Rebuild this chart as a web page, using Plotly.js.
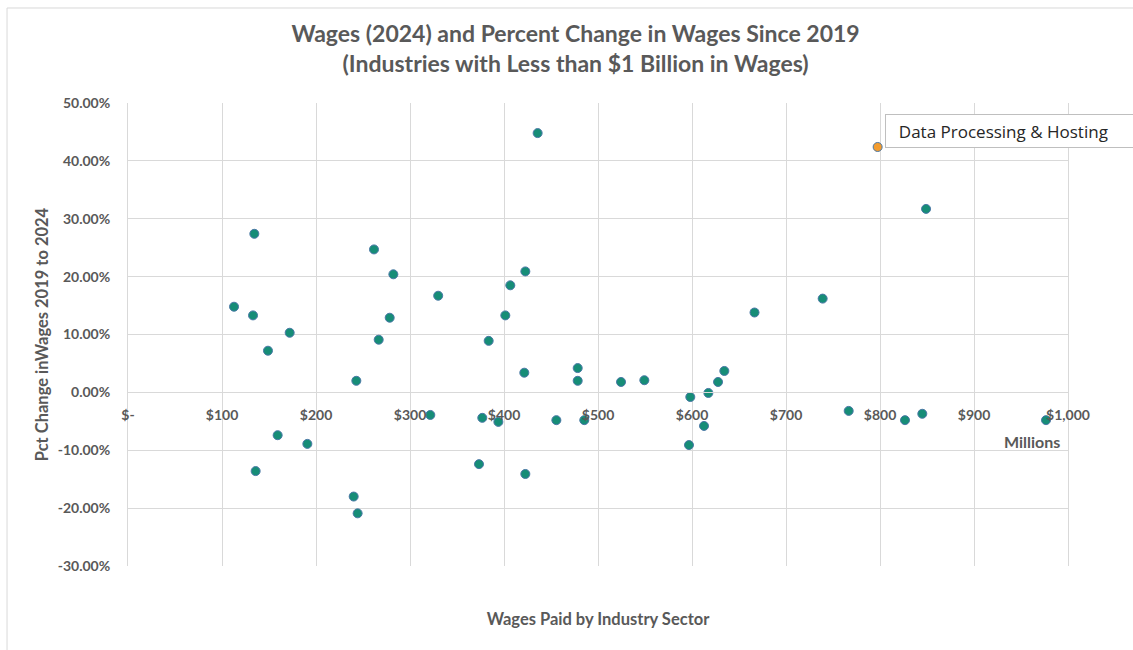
<!DOCTYPE html>
<html>
<head>
<meta charset="utf-8">
<script src="https://cdn.plot.ly/plotly-3.0.1.min.js"></script>
<style>html,body{margin:0;padding:0;background:#fff;}#chart{width:1133px;height:650px;}</style>
</head>
<body>
<div id="chart"></div>
<script>
// Wages paid in 2024 (millions of dollars) and percent change 2019-2024
const wagesMillions = [134.4, 261.7, 282.3, 330, 112.8, 133, 278.4, 172, 266.7, 148.9, 242.9,
  435.8, 422.7, 406.7, 401.4, 383.7, 421.6, 478.4, 478.4, 524.5, 549.3, 598.2, 617.4, 627.7, 634.4,
  666.5, 739, 849, 321.6, 376.9, 394, 455.7, 485.4, 159.2, 190.8, 135.8, 373.4, 422.7, 240.1, 244.3,
  612.8, 596.8, 766.7, 826.6, 845, 976.6];
const pctChange = [0.274, 0.247, 0.204, 0.167, 0.148, 0.133, 0.129, 0.103, 0.091, 0.072, 0.020,
  0.448, 0.209, 0.185, 0.133, 0.089, 0.034, 0.042, 0.020, 0.018, 0.021, -0.008, -0.001, 0.018, 0.037,
  0.138, 0.162, 0.317, -0.039, -0.044, -0.051, -0.048, -0.048, -0.074, -0.089, -0.136, -0.124, -0.141, -0.180, -0.209,
  -0.058, -0.091, -0.032, -0.048, -0.037, -0.048];

const highlightName = "Data Processing & Hosting";
const highlightWages = [797.5];
const highlightPct = [0.424];

const xTickVals = [0, 100, 200, 300, 400, 500, 600, 700, 800, 900, 1000];
const xTickText = ["$-", "$100", "$200", "$300", "$400", "$500", "$600", "$700", "$800", "$900", "$1,000"];
const yTickVals = [-0.3, -0.2, -0.1, 0, 0.1, 0.2, 0.3, 0.4, 0.5];
const yTickText = ["-30.00%", "-20.00%", "-10.00%", "0.00%", "10.00%", "20.00%", "30.00%", "40.00%", "50.00%"];

const gray = "#595959";
const grid = "#d9d9d9";
const fam = "Lato, 'Liberation Sans', sans-serif";

const traces = [
  {
    type: "scatter", mode: "markers", name: "Industries",
    x: wagesMillions, y: pctChange,
    marker: {size: 9, color: "#168d77", line: {color: "#4a78a6", width: 1}},
    hoverinfo: "x+y"
  },
  {
    type: "scatter", mode: "markers", name: highlightName,
    x: highlightWages, y: highlightPct,
    marker: {size: 9, color: "#f39c2f", line: {color: "#4a78a6", width: 1}},
    hoverinfo: "x+y+name"
  }
];

const layout = {
  width: 1133, height: 650, autosize: false,
  paper_bgcolor: "#ffffff", plot_bgcolor: "#ffffff",
  showlegend: false,
  margin: {l: 128, r: 65, t: 103, b: 84},
  title: {
    text: "Wages (2024) and Percent Change in Wages Since 2019<br>(Industries with Less than $1 Billion in Wages)",
    font: {family: fam, size: 23, color: gray, weight: "bold"},
    xref: "container", x: 0.508, xanchor: "center",
    yref: "container", y: 0.935, yanchor: "middle"
  },
  xaxis: {
    range: [0, 1000], anchor: "free", position: 0.375,
    tickmode: "array", tickvals: xTickVals, ticktext: xTickText,
    showgrid: true, gridcolor: grid, gridwidth: 1,
    zeroline: false, showline: true, linecolor: grid, linewidth: 1,
    ticks: "", ticklabelstandoff: 10,
    tickfont: {family: fam, size: 14, color: gray, weight: "bold"},
    title: {text: "Wages Paid by Industry Sector", standoff: 191,
            font: {family: fam, size: 16.5, color: gray, weight: "bold"}},
    fixedrange: true
  },
  yaxis: {
    range: [-0.3, 0.5],
    tickmode: "array", tickvals: yTickVals, ticktext: yTickText,
    showgrid: true, gridcolor: grid, gridwidth: 1,
    zeroline: false, showline: true, mirror: true, linecolor: grid, linewidth: 1,
    ticks: "", ticklabelstandoff: 14,
    tickfont: {family: fam, size: 14, color: gray, weight: "bold"},
    title: {text: "Pct Change inWages 2019 to 2024", standoff: 4,
            font: {family: fam, size: 16.5, color: gray, weight: "bold"}},
    fixedrange: true
  },
  annotations: [
    {
      xref: "paper", yref: "paper", x: 0.9936, y: 0.2685,
      xanchor: "right", yanchor: "middle", showarrow: false,
      text: "Millions",
      font: {family: fam, size: 16, color: gray, weight: "bold"}
    },
    {
      xref: "paper", yref: "paper", x: 0.8053, y: 0.9395,
      xanchor: "left", yanchor: "middle", showarrow: false,
      text: "\u00a0\u00a0" + highlightName,
      align: "left", width: 262, height: 24, borderpad: 4,
      bordercolor: "#bfbfbf", borderwidth: 1, bgcolor: "#ffffff",
      font: {family: "'Open Sans', 'Noto Sans', sans-serif", size: 17, color: "#262626"}
    }
  ],
  shapes: [
    {type: "line", xref: "paper", yref: "paper", x0: -0.1287, x1: 1.2, y0: 1.2052, y1: 1.2052,
     line: {color: grid, width: 1}},
    {type: "line", xref: "paper", yref: "paper", x0: -0.1287, x1: -0.1287, y0: 1.2052, y1: -0.3,
     line: {color: grid, width: 1}}
  ]
};

Plotly.newPlot("chart", traces, layout, {displayModeBar: false, staticPlot: true});
</script>
</body>
</html>
